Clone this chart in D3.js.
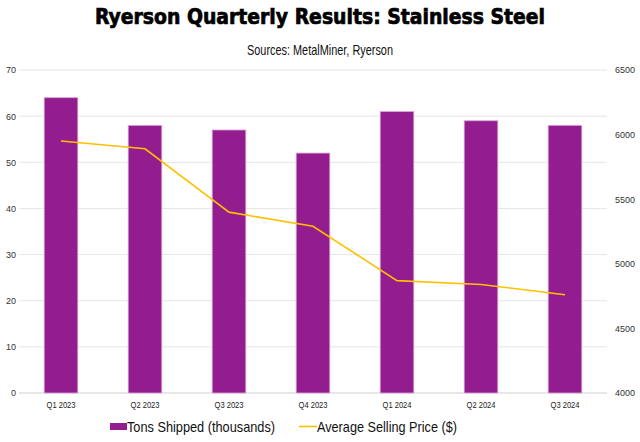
<!DOCTYPE html>
<html>
<head>
<meta charset="utf-8">
<script src="https://cdn.jsdelivr.net/npm/d3@7"></script>
<style>
  body { margin: 0; background: #fff; }
  svg { display: block; font-family: "Liberation Sans", Arial, sans-serif; }
</style>
</head>
<body>
<div id="graph"></div>
<script>
var quarters = ["Q1 2023", "Q2 2023", "Q3 2023", "Q4 2023", "Q1 2024", "Q2 2024", "Q3 2024"];
var tonsShipped = [64, 58, 57, 52, 61, 59, 58];
var avgPrice = [5950, 5890, 5400, 5290, 4870, 4840, 4760];
var leftTicks = [0, 10, 20, 30, 40, 50, 60, 70];
var rightTicks = [4000, 4500, 5000, 5500, 6000, 6500];

var w = 640, h = 442;
var plotLeft = 19, plotRight = 607, plotTop = 70, plotBottom = 393;

var vis = d3.select("#graph").append("svg")
  .attr("width", w)
  .attr("height", h);

var x = d3.scaleBand().domain(quarters).range([plotLeft, plotRight]).paddingInner(0.6).paddingOuter(0.3);
var yL = d3.scaleLinear().domain([0, 70]).range([plotBottom, plotTop]);
var yR = d3.scaleLinear().domain([4000, 6500]).range([plotBottom, plotTop]);

// title
vis.append("text")
  .attr("x", w / 2).attr("y", 24)
  .attr("text-anchor", "middle")
  .attr("textLength", 450)
  .attr("lengthAdjust", "spacingAndGlyphs")
  .style("font-family", "'DejaVu Sans Condensed', 'DejaVu Sans', sans-serif")
  .style("font-weight", "bold")
  .style("font-size", "22px")
  .style("fill", "#000")
  .style("stroke", "#000")
  .style("stroke-width", 0.7)
  .text("Ryerson Quarterly Results: Stainless Steel");

vis.append("text")
  .attr("x", w / 2).attr("y", 55)
  .attr("text-anchor", "middle")
  .attr("textLength", 146)
  .attr("lengthAdjust", "spacingAndGlyphs")
  .style("font-size", "15px")
  .style("fill", "#111")
  .text("Sources: MetalMiner, Ryerson");

// gridlines
vis.selectAll(".grid")
  .data(leftTicks)
  .enter()
  .append("line")
  .attr("class", "grid")
  .attr("x1", plotLeft).attr("x2", plotRight)
  .attr("y1", function(d) { return yL(d); })
  .attr("y2", function(d) { return yL(d); })
  .style("stroke", function(d) { return d === 0 ? "#d0d0d0" : "#e6e6e6"; })
  .style("stroke-width", 1);

// left axis
var axL = vis.append("g")
  .attr("transform", "translate(" + plotLeft + ",0)")
  .call(d3.axisLeft(yL).tickValues(leftTicks).tickSize(0).tickPadding(3));
axL.select(".domain").remove();
axL.selectAll("text").style("font-size", "9px").style("fill", "#333");

// right axis
var axR = vis.append("g")
  .attr("transform", "translate(" + (plotRight + 8) + ",0)")
  .call(d3.axisRight(yR).tickValues(rightTicks).tickSize(0).tickPadding(0).tickFormat(d3.format("d")));
axR.select(".domain").remove();
axR.selectAll("text").style("font-size", "9px").style("fill", "#333");

// bars
vis.selectAll(".bar")
  .data(quarters)
  .enter()
  .append("rect")
  .attr("class", "bar")
  .attr("x", function(d) { return x(d); })
  .attr("y", function(d, i) { return yL(tonsShipped[i]); })
  .attr("width", x.bandwidth())
  .attr("height", function(d, i) { return plotBottom - yL(tonsShipped[i]); })
  .style("fill", "#931D8E")
  .style("stroke", "#D9A6D6")
  .style("stroke-width", 0.8);

// price line
var line = d3.line()
  .x(function(d, i) { return x(quarters[i]) + x.bandwidth() / 2; })
  .y(function(d) { return yR(d); });

vis.append("path")
  .datum(avgPrice)
  .attr("d", line)
  .style("fill", "none")
  .style("stroke", "#FFC000")
  .style("stroke-width", 1.6);

// x labels
var axX = vis.append("g")
  .attr("transform", "translate(0," + plotBottom + ")")
  .call(d3.axisBottom(x).tickSize(0).tickPadding(9));
axX.select(".domain").remove();
axX.selectAll("text")
  .attr("textLength", 29)
  .attr("lengthAdjust", "spacingAndGlyphs")
  .style("font-size", "9px").style("fill", "#222");

// legend
var lg = vis.append("g");
lg.append("rect").attr("x", 110).attr("y", 423).attr("width", 17).attr("height", 7).style("fill", "#931D8E");
lg.append("text").attr("x", 127).attr("y", 432)
  .attr("textLength", 148).attr("lengthAdjust", "spacingAndGlyphs")
  .style("font-size", "15px").style("fill", "#111").text("Tons Shipped (thousands)");
lg.append("line").attr("x1", 299).attr("x2", 317).attr("y1", 426.5).attr("y2", 426.5).style("stroke", "#FFC000").style("stroke-width", 1.6);
lg.append("text").attr("x", 317).attr("y", 432)
  .attr("textLength", 140).attr("lengthAdjust", "spacingAndGlyphs")
  .style("font-size", "15px").style("fill", "#111").text("Average Selling Price ($)");
</script>
</body>
</html>
